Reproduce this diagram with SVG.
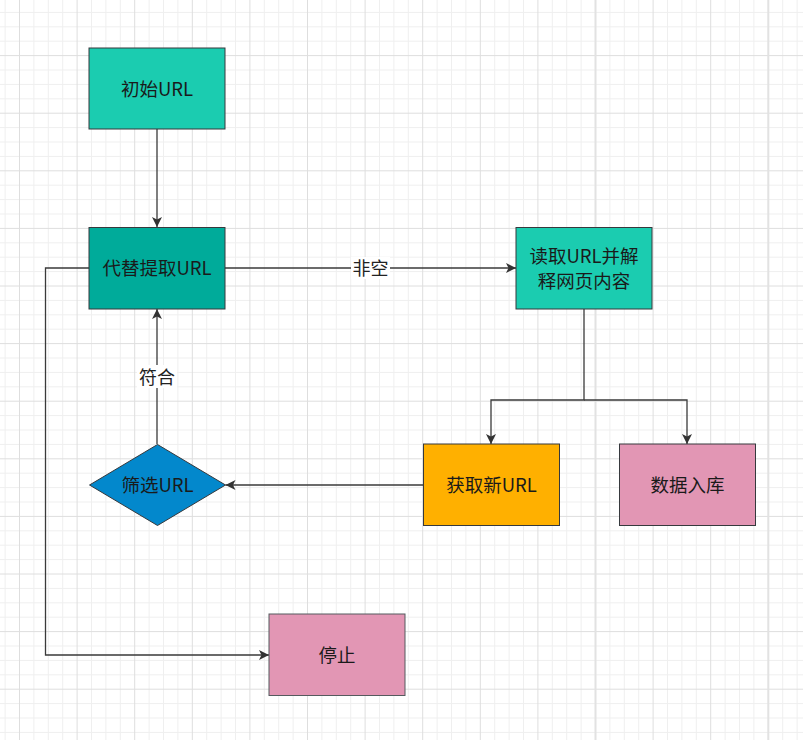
<svg xmlns="http://www.w3.org/2000/svg" width="803" height="740" viewBox="0 0 803 740">
  <style>
    .minor { stroke: #efefef; stroke-width: 1; fill: none; }
    .major { stroke: #dedede; stroke-width: 1; fill: none; }
    .page { stroke: #e2e2e2; stroke-width: 2; fill: none; }
    .box { stroke: #36393d; stroke-width: 1; }
    .edge { stroke: #3a3a3a; stroke-width: 1.3; fill: none; }
    .t { font-family: "Noto Sans CJK SC", "Noto Sans", sans-serif; font-size: 18.5px; fill: #1a1a1a; text-anchor: middle; dominant-baseline: central; }
    .lbl { font-family: "Noto Sans CJK SC", "Noto Sans", sans-serif; font-size: 18px; fill: #222222; text-anchor: middle; dominant-baseline: central; }
  </style>
  <defs>
    <marker id="arr" markerUnits="userSpaceOnUse" markerWidth="12" markerHeight="12" refX="10" refY="5" orient="auto">
      <path d="M0,0 L10,5 L0,10 L2.5,5 Z" fill="#333333"/>
    </marker>
  </defs>
  <rect width="803" height="740" fill="#ffffff"/>
  <g id="grid">
    <path class="minor" d="M5.1,0V740M33.9,0V740M48.3,0V740M62.7,0V740M91.5,0V740M105.9,0V740M120.3,0V740M149.1,0V740M163.5,0V740M177.9,0V740M206.7,0V740M221.1,0V740M235.5,0V740M264.3,0V740M278.7,0V740M293.1,0V740M321.9,0V740M336.3,0V740M350.7,0V740M379.5,0V740M393.9,0V740M408.3,0V740M437.1,0V740M451.5,0V740M465.9,0V740M494.7,0V740M509.1,0V740M523.5,0V740M552.3,0V740M566.7,0V740M581.1,0V740M609.9,0V740M624.3,0V740M638.7,0V740M667.5,0V740M681.9,0V740M696.3,0V740M725.1,0V740M739.5,0V740M753.9,0V740M782.7,0V740M797.1,0V740"/>
    <path class="minor" d="M0,12.4H803M0,26.8H803M0,41.2H803M0,70H803M0,84.4H803M0,98.8H803M0,127.6H803M0,142H803M0,156.4H803M0,185.2H803M0,199.6H803M0,214H803M0,242.8H803M0,257.2H803M0,271.6H803M0,300.4H803M0,314.8H803M0,329.2H803M0,358H803M0,372.4H803M0,386.8H803M0,415.6H803M0,430H803M0,444.4H803M0,473.2H803M0,487.6H803M0,502H803M0,530.8H803M0,545.2H803M0,559.6H803M0,588.4H803M0,602.8H803M0,617.2H803M0,646H803M0,660.4H803M0,674.8H803M0,703.6H803M0,718H803M0,732.4H803"/>
    <path class="major" d="M19.5,0V740M77.1,0V740M134.7,0V740M192.3,0V740M249.9,0V740M307.5,0V740M365.1,0V740M422.7,0V740M480.3,0V740M537.9,0V740M653.1,0V740M710.7,0V740"/>
    <path class="major" d="M0,55.6H803M0,113.2H803M0,170.8H803M0,228.4H803M0,286H803M0,343.6H803M0,401.2H803M0,458.8H803M0,516.4H803M0,574H803M0,631.6H803M0,689.2H803"/>
    <path class="page" d="M595.5,0V740M768.3,0V740"/>
  </g>
  <g id="connectors">
    <path class="edge" d="M157,129 V227" marker-end="url(#arr)"/>
    <path class="edge" d="M225,268 H516" marker-end="url(#arr)"/>
    <path class="edge" d="M584,309 V400 H491 V444" marker-end="url(#arr)"/>
    <path class="edge" d="M584,400 H687 V444" marker-end="url(#arr)"/>
    <path class="edge" d="M423,485 H225.5" marker-end="url(#arr)"/>
    <path class="edge" d="M157,444 V309" marker-end="url(#arr)"/>
    <path class="edge" d="M89,268 H45.5 V655 H269" marker-end="url(#arr)"/>
    <g id="label-feikong">
      <rect x="351" y="257" width="39" height="22" fill="#ffffff"/>
      <text class="lbl" x="370.5" y="267">非空</text>
    </g>
    <g id="label-fuhe">
      <rect x="137" y="365" width="40" height="23" fill="#ffffff"/>
      <text class="lbl" x="157" y="376">符合</text>
    </g>
  </g>
  <g id="node-start">
    <rect class="box" x="89" y="48" width="136" height="81" fill="#1bccb0"/>
    <text class="t" x="157" y="88">初始URL</text>
  </g>
  <g id="node-fetch">
    <rect class="box" x="89" y="227.5" width="136" height="81.5" fill="#00ab9a"/>
    <text class="t" x="157" y="267">代替提取URL</text>
  </g>
  <g id="node-parse">
    <rect class="box" x="516" y="227.5" width="136" height="81.5" fill="#1bccb0"/>
    <text class="t" x="584" y="255">读取URL并解</text>
    <text class="t" x="584" y="280">释网页内容</text>
  </g>
  <g id="node-newurl">
    <rect class="box" x="423.5" y="444" width="136" height="81.5" fill="#ffb000"/>
    <text class="t" x="491.5" y="484">获取新URL</text>
  </g>
  <g id="node-store">
    <rect class="box" x="619.5" y="444" width="136" height="81.5" fill="#e296b4"/>
    <text class="t" x="687.5" y="484">数据入库</text>
  </g>
  <g id="node-filter">
    <path class="box" d="M157.5,444.5 L225.5,485 L157.5,525.5 L89.5,485 Z" fill="#0388cc"/>
    <text class="t" x="157.5" y="484">筛选URL</text>
  </g>
  <g id="node-stop">
    <rect x="269" y="614" width="136" height="81.5" fill="#e296b4" stroke="#555a5e" stroke-width="1"/>
    <text class="t" x="337" y="654">停止</text>
  </g>
</svg>
